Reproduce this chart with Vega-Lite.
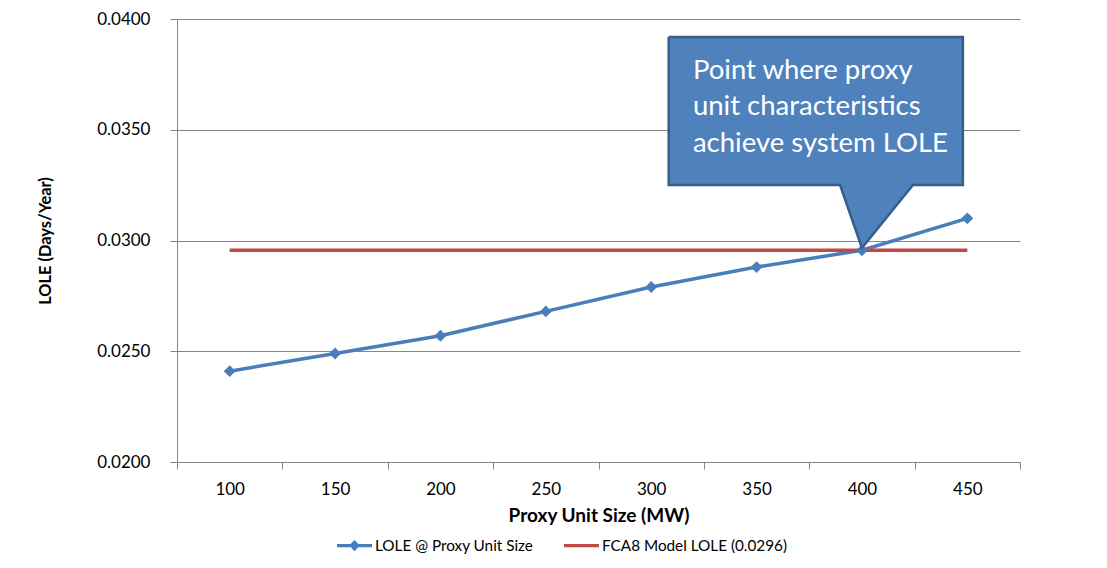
{
  "$schema": "https://vega.github.io/schema/vega-lite/v6.json",
  "width": 843,
  "height": 443,
  "autosize": "none",
  "padding": {"left": 177, "top": 19, "right": 87, "bottom": 106},
  "background": "white",
  "config": {
    "view": {"stroke": null},
    "font": "Lato",
    "axis": {
      "domainColor": "#868686",
      "tickColor": "#868686",
      "gridColor": "#868686",
      "labelColor": "#000000",
      "titleColor": "#000000",
      "labelFont": "Lato",
      "titleFont": "Lato"
    }
  },
  "datasets": {
    "series": [
      {"size": 100, "series": "LOLE @ Proxy Unit Size", "lole": 0.0241},
      {"size": 150, "series": "LOLE @ Proxy Unit Size", "lole": 0.0249},
      {"size": 200, "series": "LOLE @ Proxy Unit Size", "lole": 0.0257},
      {"size": 250, "series": "LOLE @ Proxy Unit Size", "lole": 0.0268},
      {"size": 300, "series": "LOLE @ Proxy Unit Size", "lole": 0.0279},
      {"size": 350, "series": "LOLE @ Proxy Unit Size", "lole": 0.0288},
      {"size": 400, "series": "LOLE @ Proxy Unit Size", "lole": 0.02956},
      {"size": 450, "series": "LOLE @ Proxy Unit Size", "lole": 0.0310},
      {"size": 100, "series": "FCA8 Model LOLE (0.0296)", "lole": 0.02956},
      {"size": 150, "series": "FCA8 Model LOLE (0.0296)", "lole": 0.02956},
      {"size": 200, "series": "FCA8 Model LOLE (0.0296)", "lole": 0.02956},
      {"size": 250, "series": "FCA8 Model LOLE (0.0296)", "lole": 0.02956},
      {"size": 300, "series": "FCA8 Model LOLE (0.0296)", "lole": 0.02956},
      {"size": 350, "series": "FCA8 Model LOLE (0.0296)", "lole": 0.02956},
      {"size": 400, "series": "FCA8 Model LOLE (0.0296)", "lole": 0.02956},
      {"size": 450, "series": "FCA8 Model LOLE (0.0296)", "lole": 0.02956}
    ],
    "callout": [
      {"ord": 1, "size": 308.3, "lole": 0.03919},
      {"ord": 2, "size": 447.9, "lole": 0.03919},
      {"ord": 3, "size": 447.9, "lole": 0.03251},
      {"ord": 4, "size": 424.2, "lole": 0.03251},
      {"ord": 5, "size": 400.0, "lole": 0.02966},
      {"ord": 6, "size": 389.6, "lole": 0.03251},
      {"ord": 7, "size": 308.3, "lole": 0.03251},
      {"ord": 8, "size": 308.3, "lole": 0.03919}
    ],
    "calloutText": [
      {"size": 319.8, "lole": 0.03729, "label": "Point where proxy"},
      {"size": 319.8, "lole": 0.03567, "label": "unit characteristics"},
      {"size": 319.8, "lole": 0.03400, "label": "achieve system LOLE"}
    ]
  },
  "layer": [
    {
      "data": {"name": "series"},
      "mark": {"type": "line", "strokeWidth": 3.5},
      "encoding": {
        "x": {
          "field": "size",
          "type": "quantitative",
          "scale": {"domain": [75, 475], "nice": false, "zero": false},
          "axis": {
            "values": [75, 100, 125, 150, 175, 200, 225, 250, 275, 300, 325, 350, 375, 400, 425, 450, 475],
            "grid": false,
            "tickSize": 7,
            "tickOpacity": {"condition": {"test": "datum.value % 50 == 25", "value": 1}, "value": 0},
            "labelExpr": "datum.value % 50 == 0 ? datum.label : ''",
            "labelFontSize": 17,
            "labelPadding": 12,
            "labelFlush": false,
            "labelOverlap": false,
            "title": "Proxy Unit Size (MW)",
            "titleFontSize": 19,
            "titleFontWeight": "bold",
            "titlePadding": 9
          }
        },
        "y": {
          "field": "lole",
          "type": "quantitative",
          "scale": {"domain": [0.02, 0.04], "nice": false, "zero": false},
          "axis": {
            "values": [0.02, 0.025, 0.03, 0.035, 0.04],
            "format": ".4f",
            "grid": true,
            "tickSize": 7,
            "labelFontSize": 17,
            "labelPadding": 20,
            "labelFlush": false,
            "title": "LOLE (Days/Year)",
            "titleFontSize": 16.4,
            "titleFontWeight": "bold",
            "titlePadding": 43
          }
        },
        "color": {
          "field": "series",
          "type": "nominal",
          "scale": {
            "domain": ["LOLE @ Proxy Unit Size", "FCA8 Model LOLE (0.0296)"],
            "range": ["#4A7EBB", "#BE4B48"]
          },
          "legend": {
            "orient": "none",
            "legendX": 160,
            "legendY": 509,
            "direction": "horizontal",
            "title": null,
            "labelFontSize": 15.3,
            "labelFont": "Lato",
            "labelColor": "#000000",
            "labelLimit": 400,
            "symbolSize": 1225,
            "labelOffset": 3,
            "columnPadding": 30,
            "encode": {
              "symbols": {
                "update": {
                  "shape": {"signal": "datum.value == 'LOLE @ Proxy Unit Size' ? 'M-1,-0.09L1,-0.09L1,0.09L-1,0.09Z M-0.3,0L0,-0.32L0.3,0L0,0.32Z' : 'M-1,-0.09L1,-0.09L1,0.09L-1,0.09Z'"},
                  "fill": {"signal": "datum.value == 'LOLE @ Proxy Unit Size' ? '#4A7EBB' : '#BE4B48'"},
                  "fillOpacity": {"value": 1},
                  "strokeWidth": {"value": 0}
                }
              }
            }
          }
        }
      }
    },
    {
      "data": {"name": "series"},
      "transform": [{"filter": "datum.series == 'LOLE @ Proxy Unit Size'"}],
      "mark": {"type": "point", "shape": "diamond", "filled": true, "size": 140, "opacity": 1, "color": "#4A7EBB"},
      "encoding": {
        "x": {"field": "size", "type": "quantitative"},
        "y": {"field": "lole", "type": "quantitative"}
      }
    },
    {
      "data": {"name": "callout"},
      "mark": {"type": "line", "fill": "#4F81BD", "fillOpacity": 1, "stroke": "#385D8A", "strokeWidth": 2.5, "strokeJoin": "miter"},
      "encoding": {
        "x": {"field": "size", "type": "quantitative"},
        "y": {"field": "lole", "type": "quantitative"},
        "order": {"field": "ord", "type": "quantitative"}
      }
    },
    {
      "data": {"name": "calloutText"},
      "mark": {"type": "text", "align": "left", "baseline": "alphabetic", "font": "Lato", "fontSize": 27.5, "color": "#FFFFFF"},
      "encoding": {
        "x": {"field": "size", "type": "quantitative"},
        "y": {"field": "lole", "type": "quantitative"},
        "text": {"field": "label"}
      }
    }
  ]
}
